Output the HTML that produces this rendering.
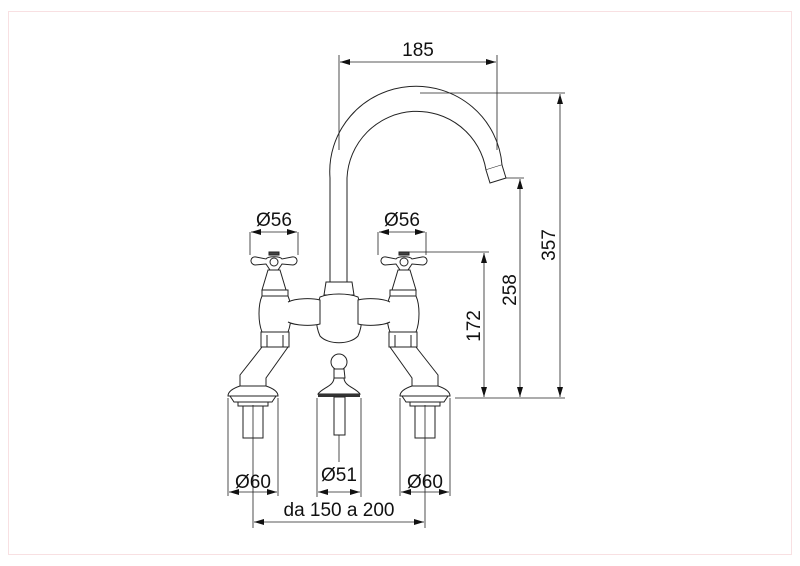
<!DOCTYPE html>
<html><head><meta charset="utf-8"><style>
html,body{margin:0;padding:0;background:#fff;}
svg{display:block;}
text{font-family:"Liberation Sans",sans-serif;fill:#111;}
</style></head><body>
<svg width="800" height="566" viewBox="0 0 800 566" xmlns="http://www.w3.org/2000/svg">
<defs>
<marker id="a" viewBox="0 0 10 6" refX="10" refY="3" markerWidth="10" markerHeight="6" orient="auto-start-reverse" markerUnits="userSpaceOnUse"><path d="M0,0 L10,3 L0,6 z" fill="#111"/></marker>
<g id="tap" fill="#fff" stroke="#222" stroke-width="1">
  <path d="M256,257 C250,256 249,264 255,265 L266,264 L270,270 L278,270 L282,264 L293,265 C299,264 298,256 292,257 L282,259 C280,256 268,256 266,259 Z"/>
  <circle cx="274" cy="262" r="4"/>
  <rect x="269" y="252" width="10" height="3" fill="#444"/>
  <path d="M268,270 L280,270 L286,290 L262,290 Z"/>
  <path d="M262,290 L288,290 L288,296 C292,305 292,322 288,332 L262,332 C258,322 258,305 262,296 Z"/>
  <line x1="262" y1="296" x2="288" y2="296"/>
  <rect x="261" y="332" width="28" height="15"/>
  <line x1="267" y1="335" x2="267" y2="347"/><line x1="283" y1="335" x2="283" y2="347"/>
  <path d="M262,347 L240,375 L240,386 L266,386 L266,378 L288,347 Z"/>
  <path d="M240,386 L266,386 C272,388 278,391 278,396 L228,396 C228,391 234,388 240,386 Z"/>
  <path d="M230,396 L276,396 L272,402 L234,402 Z"/>
  <rect x="238" y="402" width="30" height="4"/>
  <rect x="243" y="406" width="20" height="32" fill="none"/>
  <line x1="228" y1="398" x2="228" y2="496" stroke-width="0.8"/>
  <line x1="278" y1="398" x2="278" y2="496" stroke-width="0.8"/>
  <line x1="253" y1="405" x2="253" y2="528" stroke-width="0.8"/>
  <path d="M288,302 C296,298 312,298 320,300 L320,324 C312,326 296,326 288,322"/>
</g>
</defs>
<rect x="8.5" y="11.5" width="783" height="543" fill="none" stroke="#f8e0e2" stroke-width="1"/>

<!-- spout -->
<path d="M330,282 L330,178 A86,85 0 0 1 502,165 L486,170 A70,70 0 0 0 347,178 L347,282" fill="#fff" stroke="#222" stroke-width="1"/>
<path d="M486,170 L490,183 L506,178 L502,165" fill="#fff" stroke="#222"/>
<line x1="339" y1="55" x2="339" y2="150" stroke="#222" stroke-width="0.8"/>
<line x1="497" y1="55" x2="497" y2="150" stroke="#222" stroke-width="0.8"/>
<line x1="340" y1="62" x2="496" y2="62" stroke="#222" stroke-width="0.8" marker-start="url(#a)" marker-end="url(#a)"/>
<text x="418" y="56" font-size="19" text-anchor="middle">185</text>

<!-- central hub -->
<path d="M326,282 L352,282 L354,295 L324,295 Z" fill="#fff" stroke="#222"/>
<path d="M320,297 C330,293 348,293 358,297 C363,310 363,325 358,336 C350,345 328,345 320,336 C315,325 315,310 320,297 Z" fill="#fff" stroke="#222"/>

<use href="#tap"/>
<use href="#tap" transform="translate(678,0) scale(-1,1)"/>

<!-- pop-up -->
<circle cx="339" cy="362" r="8" fill="#fff" stroke="#222"/>
<path d="M334,369 L344,369 L345,378 L334,378 Z M334,378 C334,386 322,388 318,394 L360,394 C356,388 344,386 344,378" fill="#fff" stroke="#222"/>
<rect x="318" y="394" width="42" height="3" fill="#333"/>
<rect x="334" y="397" width="11" height="38" fill="#fff" stroke="#222"/>
<line x1="339" y1="435" x2="339" y2="462" stroke="#222" stroke-width="0.8"/>
<line x1="317" y1="398" x2="317" y2="497" stroke="#222" stroke-width="0.8"/>
<line x1="361" y1="398" x2="361" y2="497" stroke="#222" stroke-width="0.8"/>

<g stroke="#222" stroke-width="0.8" fill="none">
<line x1="250" y1="232" x2="250" y2="255"/><line x1="298" y1="232" x2="298" y2="255"/>
<line x1="378" y1="232" x2="378" y2="255"/><line x1="426" y1="232" x2="426" y2="255"/>
<line x1="251" y1="232" x2="297" y2="232" marker-start="url(#a)" marker-end="url(#a)"/>
<line x1="379" y1="232" x2="425" y2="232" marker-start="url(#a)" marker-end="url(#a)"/>
<line x1="408" y1="252" x2="489" y2="252"/>
<line x1="506" y1="178" x2="524" y2="178"/>
<line x1="420" y1="93" x2="565" y2="93"/>
<line x1="455" y1="398" x2="565" y2="398"/>
<line x1="484" y1="253" x2="484" y2="397" marker-start="url(#a)" marker-end="url(#a)"/>
<line x1="520" y1="179" x2="520" y2="397" marker-start="url(#a)" marker-end="url(#a)"/>
<line x1="560" y1="94" x2="560" y2="397" marker-start="url(#a)" marker-end="url(#a)"/>
<line x1="229" y1="492" x2="277" y2="492" marker-start="url(#a)" marker-end="url(#a)"/>
<line x1="318" y1="492" x2="360" y2="492" marker-start="url(#a)" marker-end="url(#a)"/>
<line x1="401" y1="492" x2="449" y2="492" marker-start="url(#a)" marker-end="url(#a)"/>
<line x1="254" y1="522" x2="424" y2="522" marker-start="url(#a)" marker-end="url(#a)"/>
</g>
<text x="274" y="226" font-size="19" text-anchor="middle">Ø56</text>
<text x="402" y="226" font-size="19" text-anchor="middle">Ø56</text>
<text x="253" y="488" font-size="19" text-anchor="middle">Ø60</text>
<text x="339" y="481" font-size="19" text-anchor="middle">Ø51</text>
<text x="425" y="488" font-size="19" text-anchor="middle">Ø60</text>
<text x="339" y="516" font-size="19" text-anchor="middle">da 150 a 200</text>
<text transform="translate(480,326) rotate(-90)" font-size="19" text-anchor="middle">172</text>
<text transform="translate(516,290) rotate(-90)" font-size="19" text-anchor="middle">258</text>
<text transform="translate(555,245) rotate(-90)" font-size="19" text-anchor="middle">357</text>
</svg>
</body></html>
